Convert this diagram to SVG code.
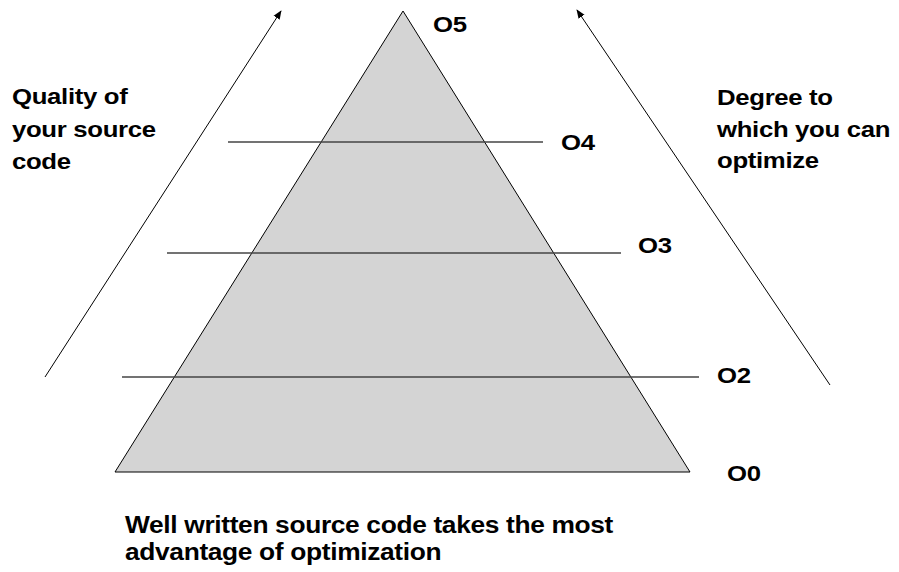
<svg xmlns="http://www.w3.org/2000/svg" width="899" height="572" viewBox="0 0 899 572">
  <defs>
    <marker id="arrow" viewBox="0 0 10 10" refX="9" refY="5" markerWidth="9" markerHeight="9" orient="auto" markerUnits="userSpaceOnUse">
      <path d="M0,1 L10,5 L0,9 Z" fill="#000"/>
    </marker>
    <style>
      .lbl { font-family: "Liberation Sans", Arial, sans-serif; font-weight: bold; font-size: 23px; fill: #000; letter-spacing: -0.3px; }
      .level { stroke: #444; stroke-width: 1.3; fill: none; }
      .arr { stroke: #000; stroke-width: 1; fill: none; marker-end: url(#arrow); }
    </style>
  </defs>
  <rect width="899" height="572" fill="#fff"/>

  <!-- pyramid -->
  <g id="pyramid">
    <polygon points="403,11 115,472 690,472" fill="#d4d4d4" stroke="#000" stroke-width="1"/>
  </g>

  <!-- optimization levels -->
  <g id="levels">
    <line class="level" x1="228" y1="142" x2="543" y2="142"/>
    <line class="level" x1="167" y1="253" x2="621" y2="253"/>
    <line class="level" x1="122" y1="377" x2="699" y2="377"/>
  </g>

  <!-- connectors -->
  <g id="connectors">
    <line class="arr" x1="45" y1="377" x2="281" y2="11"/>
    <line class="arr" x1="830" y1="385" x2="577" y2="10"/>
  </g>

  <!-- text is drawn slightly wide: scale(1.12,1) -->
  <g id="level-labels">
    <text class="lbl" transform="translate(433,32) scale(1.12,1)">O5</text>
    <text class="lbl" transform="translate(561,150) scale(1.12,1)">O4</text>
    <text class="lbl" transform="translate(638,253) scale(1.12,1)">O3</text>
    <text class="lbl" transform="translate(717,383) scale(1.12,1)">O2</text>
    <text class="lbl" transform="translate(727,481) scale(1.12,1)">O0</text>
  </g>

  <g id="left-label">
    <text class="lbl" transform="translate(12,104) scale(1.12,1)">Quality of</text>
    <text class="lbl" transform="translate(12,137) scale(1.12,1)">your source</text>
    <text class="lbl" transform="translate(12,169) scale(1.12,1)">code</text>
  </g>

  <g id="right-label">
    <text class="lbl" transform="translate(717,105) scale(1.12,1)">Degree to</text>
    <text class="lbl" transform="translate(717,137) scale(1.12,1)">which you can</text>
    <text class="lbl" transform="translate(717,168) scale(1.12,1)">optimize</text>
  </g>

  <g id="caption">
    <text class="lbl" transform="translate(125,533) scale(1.145,1)">Well written source code takes the most</text>
    <text class="lbl" transform="translate(125,560) scale(1.145,1)">advantage of optimization</text>
  </g>
</svg>
